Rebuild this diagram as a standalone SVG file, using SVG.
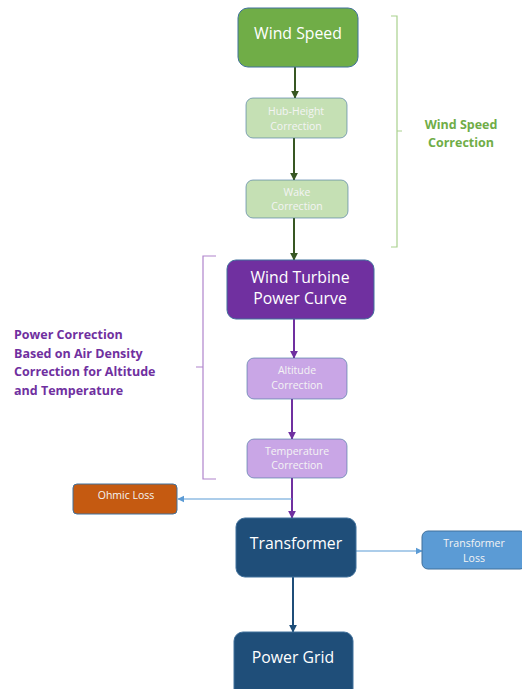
<svg xmlns="http://www.w3.org/2000/svg" width="522" height="689" viewBox="0 0 522 689">
  <style>
    .lbl { font-family: "Open Sans", "Liberation Sans", sans-serif; fill: #ffffff; text-anchor: middle; }
    .big { font-size: 15.8px; }
    .small { font-size: 10.5px; fill: #f4f4f4; }
    .note { font-family: "Open Sans", "Liberation Sans", sans-serif; font-weight: bold; font-size: 12.5px; }
    .box { stroke: #41719C; stroke-width: 1; }
    .brace { fill: none; stroke-width: 1.2; }
  </style>
  <defs>
    <marker id="ahGreen" viewBox="0 0 10 10" refX="9" refY="5" markerWidth="4" markerHeight="4" orient="auto">
      <path d="M0,0 L10,5 L0,10 z" fill="#385723"/>
    </marker>
    <marker id="ahPurple" viewBox="0 0 10 10" refX="9" refY="5" markerWidth="4" markerHeight="4" orient="auto">
      <path d="M0,0 L10,5 L0,10 z" fill="#7030A0"/>
    </marker>
    <marker id="ahNavy" viewBox="0 0 10 10" refX="9" refY="5" markerWidth="4" markerHeight="4" orient="auto">
      <path d="M0,0 L10,5 L0,10 z" fill="#1F4E79"/>
    </marker>
    <marker id="ahBlue" viewBox="0 0 10 10" refX="9" refY="5" markerWidth="6" markerHeight="6" orient="auto">
      <path d="M0,0 L10,5 L0,10 z" fill="#5B9BD5"/>
    </marker>
  </defs>

  <rect width="522" height="689" fill="#ffffff"/>

  <!-- connectors -->
  <g id="connectors">
    <line x1="295" y1="67" x2="295" y2="98" stroke="#385723" stroke-width="2" marker-end="url(#ahGreen)"/>
    <line x1="294" y1="138" x2="294" y2="180" stroke="#385723" stroke-width="2" marker-end="url(#ahGreen)"/>
    <line x1="294" y1="218" x2="294" y2="260" stroke="#385723" stroke-width="2" marker-end="url(#ahGreen)"/>
    <line x1="294" y1="319" x2="294" y2="358" stroke="#7030A0" stroke-width="2" marker-end="url(#ahPurple)"/>
    <line x1="292" y1="399" x2="292" y2="439" stroke="#7030A0" stroke-width="2" marker-end="url(#ahPurple)"/>
    <line x1="292" y1="478" x2="292" y2="518" stroke="#7030A0" stroke-width="2" marker-end="url(#ahPurple)"/>
    <line x1="292" y1="499" x2="178" y2="499" stroke="#5B9BD5" stroke-width="1.2" marker-end="url(#ahBlue)"/>
    <line x1="356" y1="551" x2="422" y2="551" stroke="#5B9BD5" stroke-width="1.2" marker-end="url(#ahBlue)"/>
    <line x1="293" y1="577" x2="293" y2="632" stroke="#1F4E79" stroke-width="2" marker-end="url(#ahNavy)"/>
  </g>

  <!-- wind speed correction brace -->
  <g id="brace-wind">
    <path class="brace" stroke="#A9D18E" d="M391,16 H397 V131 L402,131 M397,131 V247 H391"/>
    <text class="note" fill="#70AD47" text-anchor="middle" x="461" y="129">Wind Speed</text>
    <text class="note" fill="#70AD47" text-anchor="middle" x="461" y="147">Correction</text>
  </g>

  <!-- air density brace -->
  <g id="brace-power">
    <path class="brace" stroke="#B084CC" d="M216,256 H203 V367 L196,367 M203,367 V479 H216"/>
    <text class="note" fill="#7030A0" x="14" y="339">Power Correction</text>
    <text class="note" fill="#7030A0" x="14" y="358">Based on Air Density</text>
    <text class="note" fill="#7030A0" x="14" y="376">Correction for Altitude</text>
    <text class="note" fill="#7030A0" x="14" y="395">and Temperature</text>
  </g>

  <g id="wind-speed">
    <rect class="box" x="238" y="8" width="120" height="59" rx="10" fill="#70AD47"/>
    <text class="lbl big" x="298" y="39">Wind Speed</text>
  </g>

  <g id="hub-height">
    <rect class="box" x="246" y="98" width="101" height="40" rx="7" fill="#C5E0B4" stroke-opacity="0.6"/>
    <text class="lbl small" x="296" y="115">Hub-Height</text>
    <text class="lbl small" x="296" y="130">Correction</text>
  </g>

  <g id="wake">
    <rect class="box" x="246" y="180" width="102" height="38" rx="7" fill="#C5E0B4" stroke-opacity="0.6"/>
    <text class="lbl small" x="297" y="196">Wake</text>
    <text class="lbl small" x="297" y="210">Correction</text>
  </g>

  <g id="power-curve">
    <rect class="box" x="227" y="260" width="147" height="59" rx="9" fill="#7030A0"/>
    <text class="lbl big" x="300" y="283">Wind Turbine</text>
    <text class="lbl big" x="300" y="304">Power Curve</text>
  </g>

  <g id="altitude">
    <rect class="box" x="247" y="358" width="100" height="41" rx="7" fill="#C9A6E6" stroke-opacity="0.6"/>
    <text class="lbl small" x="297" y="374">Altitude</text>
    <text class="lbl small" x="297" y="389">Correction</text>
  </g>

  <g id="temperature">
    <rect class="box" x="247" y="439" width="100" height="39" rx="7" fill="#C9A6E6" stroke-opacity="0.6"/>
    <text class="lbl small" x="297" y="455">Temperature</text>
    <text class="lbl small" x="297" y="469">Correction</text>
  </g>

  <g id="ohmic-loss">
    <rect class="box" x="73" y="484" width="104" height="30" rx="4" fill="#C55A11"/>
    <text class="lbl small" x="126" y="499">Ohmic Loss</text>
  </g>

  <g id="transformer">
    <rect class="box" x="236" y="518" width="120" height="59" rx="9" fill="#1F4E79"/>
    <text class="lbl big" x="296" y="549">Transformer</text>
  </g>

  <g id="transformer-loss">
    <rect class="box" x="422" y="531" width="104" height="38" rx="6" fill="#5B9BD5"/>
    <text class="lbl small" x="474" y="547">Transformer</text>
    <text class="lbl small" x="474" y="562">Loss</text>
  </g>

  <g id="power-grid">
    <rect class="box" x="234" y="632" width="119" height="66" rx="9" fill="#1F4E79"/>
    <text class="lbl big" x="293" y="663">Power Grid</text>
  </g>
</svg>
